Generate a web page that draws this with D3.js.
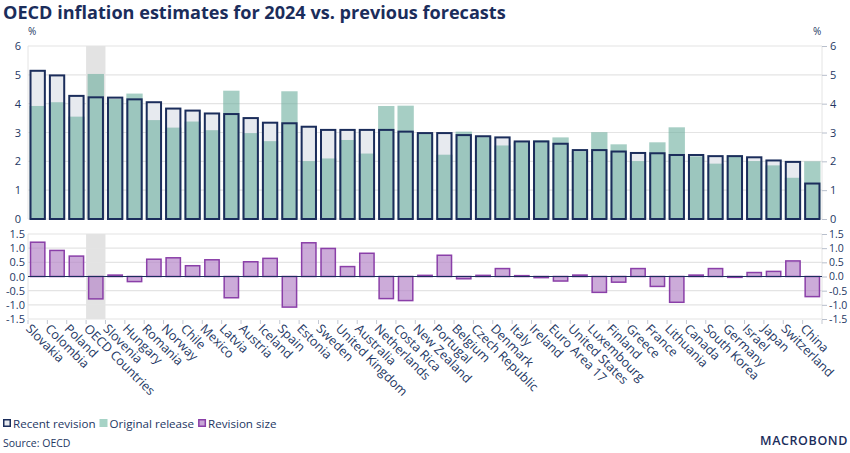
<!DOCTYPE html>
<html>
<head>
<meta charset="utf-8">
<script src="https://cdn.jsdelivr.net/npm/d3@7"></script>
<style>
  body { margin: 0; background: #fff; }
  text { font-family: "Open Sans", sans-serif; }
</style>
</head>
<body>
<script>
const countries = ["Slovakia", "Colombia", "Poland", "OECD Countries", "Slovenia", "Hungary", "Romania", "Norway",
  "Chile", "Mexico", "Latvia", "Austria", "Iceland", "Spain", "Estonia", "Sweden", "United Kingdom", "Australia",
  "Netherlands", "Costa Rica", "New Zealand", "Portugal", "Belgium", "Czech Republic", "Denmark", "Italy", "Ireland",
  "Euro Area 17", "United States", "Luxembourg", "Finland", "Greece", "France", "Lithuania", "Canada", "South Korea",
  "Germany", "Israel", "Japan", "Switzerland", "China"];

const recentRevision = [5.14, 4.98, 4.27, 4.22, 4.21, 4.15, 4.05, 3.83, 3.76, 3.66, 3.64, 3.50, 3.34, 3.32, 3.20,
  3.09, 3.09, 3.09, 3.09, 3.03, 2.98, 2.98, 2.91, 2.87, 2.83, 2.69, 2.69, 2.61, 2.39, 2.39, 2.34, 2.29, 2.28,
  2.22, 2.22, 2.18, 2.18, 2.14, 2.03, 1.98, 1.23];

const originalRelease = [3.92, 4.05, 3.55, 5.03, 4.16, 4.35, 3.43, 3.17, 3.38, 3.08, 4.45, 2.98, 2.70, 4.43, 2.01,
  2.10, 2.74, 2.27, 3.92, 3.93, 2.95, 2.23, 3.03, 2.84, 2.55, 2.67, 2.73, 2.83, 2.35, 3.01, 2.59, 2.01, 2.66,
  3.18, 2.17, 1.92, 2.21, 2.01, 1.86, 1.43, 2.00];

const revisionSize = [1.21, 0.92, 0.72, -0.79, 0.05, -0.18, 0.61, 0.66, 0.38, 0.59, -0.75, 0.52, 0.64, -1.08, 1.19,
  0.99, 0.35, 0.82, -0.78, -0.85, 0.04, 0.75, -0.08, 0.04, 0.28, 0.03, -0.04, -0.16, 0.05, -0.56, -0.20, 0.28,
  -0.35, -0.91, 0.05, 0.28, -0.03, 0.14, 0.18, 0.55, -0.71];

const topTicks = [0, 1, 2, 3, 4, 5, 6];
const bottomTicks = [-1.5, -1.0, -0.5, 0.0, 0.5, 1.0, 1.5];
const highlighted = "OECD Countries";

const width = 850;
const height = 453;
const plot = {left: 28, right: 822, topY0: 219, topY1: 46, botY0: 319, botY1: 234};

const navy = "#1b2d5b";
const textColor = "#243763";
const gridColor = "#e4e4e4";

const data = countries.map((c, i) => ({
  country: c,
  recent: recentRevision[i],
  original: originalRelease[i],
  revision: revisionSize[i]
}));

const svg = d3.select("body").append("svg")
  .attr("width", width)
  .attr("height", height);

const xScale = d3.scaleBand()
  .domain(countries)
  .range([plot.left, plot.right])
  .paddingInner(0.26)
  .paddingOuter(0.13);

const yTop = d3.scaleLinear().domain([0, 6]).range([plot.topY0, plot.topY1]);
const yBot = d3.scaleLinear().domain([-1.5, 1.5]).range([plot.botY0, plot.botY1]);

// hyphen instead of unicode minus, like the original
const fmtBot = d => d3.format(".1f")(d).replace("\u2212", "-");

// title
svg.append("text")
  .attr("x", 3).attr("y", 19)
  .attr("font-size", 18.1)
  .attr("font-weight", 700)
  .attr("fill", navy)
  .text("OECD inflation estimates for 2024 vs. previous forecasts");

// highlight band behind OECD
const bandX = xScale(highlighted) - xScale.step() * xScale.paddingInner() / 2;
[[plot.topY1, plot.topY0], [plot.botY1, plot.botY0]].forEach(([y1, y0]) => {
  svg.append("rect")
    .attr("x", bandX)
    .attr("y", y1)
    .attr("width", xScale.step())
    .attr("height", y0 - y1)
    .attr("fill", "#e3e3e3");
});

// grid lines
svg.append("g")
  .selectAll("line")
  .data(topTicks)
  .join("line")
  .attr("x1", plot.left).attr("x2", plot.right)
  .attr("y1", d => yTop(d)).attr("y2", d => yTop(d))
  .attr("stroke", gridColor).attr("stroke-width", 1.2);

svg.append("g")
  .selectAll("line")
  .data(bottomTicks)
  .join("line")
  .attr("x1", plot.left).attr("x2", plot.right)
  .attr("y1", d => yBot(d)).attr("y2", d => yBot(d))
  .attr("stroke", gridColor).attr("stroke-width", 1.2);

// side frame lines
[plot.left, plot.right].forEach(x => {
  svg.append("line").attr("x1", x).attr("x2", x).attr("y1", plot.topY1).attr("y2", plot.topY0)
    .attr("stroke", gridColor);
  svg.append("line").attr("x1", x).attr("x2", x).attr("y1", plot.botY1).attr("y2", plot.botY0)
    .attr("stroke", gridColor);
});

// axes
const leftTop = svg.append("g")
  .attr("transform", `translate(${plot.left - 6}, 0)`)
  .call(d3.axisLeft(yTop).tickValues(topTicks).tickSize(0).tickFormat(d3.format("d")));
const rightTop = svg.append("g")
  .attr("transform", `translate(${plot.right}, 0)`)
  .call(d3.axisRight(yTop).tickValues(topTicks).tickSize(5).tickPadding(3).tickFormat(d3.format("d")));
const leftBot = svg.append("g")
  .attr("transform", `translate(${plot.left - 2}, 0)`)
  .call(d3.axisLeft(yBot).tickValues(bottomTicks).tickSize(0).tickPadding(1).tickFormat(fmtBot));
const rightBot = svg.append("g")
  .attr("transform", `translate(${plot.right}, 0)`)
  .call(d3.axisRight(yBot).tickValues(bottomTicks).tickSize(5).tickPadding(2).tickFormat(fmtBot));

[leftTop, rightTop, leftBot, rightBot].forEach(g => {
  g.select(".domain").remove();
  g.selectAll(".tick line").attr("stroke", "#b8bfcc");
  g.selectAll(".tick text")
    .attr("fill", textColor)
    .attr("font-size", 11)
    .attr("font-family", "Open Sans, sans-serif");
});
leftTop.selectAll(".tick text").attr("text-anchor", "middle").attr("x", -4);
rightBot.selectAll(".tick text").attr("font-size", 10.5);

svg.append("text").attr("x", 28).attr("y", 35).attr("font-size", 10).attr("fill", textColor).text("%");
svg.append("text").attr("x", 813).attr("y", 35).attr("font-size", 10).attr("fill", textColor).text("%");

// top chart: recent revision fill, original release, recent revision outline
const bw = xScale.bandwidth();

svg.append("g").selectAll("rect")
  .data(data)
  .join("rect")
  .attr("x", d => xScale(d.country))
  .attr("y", d => yTop(d.recent))
  .attr("width", bw)
  .attr("height", d => yTop(0) - yTop(d.recent))
  .attr("fill", "#e7eaef");

svg.append("g").selectAll("rect")
  .data(data)
  .join("rect")
  .attr("x", d => xScale(d.country) - 1)
  .attr("y", d => yTop(d.original))
  .attr("width", bw + 2)
  .attr("height", d => yTop(0) - yTop(d.original))
  .attr("fill", "#6aae9c")
  .attr("fill-opacity", 0.6);

svg.append("g").selectAll("rect")
  .data(data)
  .join("rect")
  .attr("x", d => xScale(d.country))
  .attr("y", d => yTop(d.recent))
  .attr("width", bw)
  .attr("height", d => yTop(0) - yTop(d.recent))
  .attr("fill", "none")
  .attr("stroke", navy)
  .attr("stroke-width", 2);

// bottom chart: revision size
svg.append("g").selectAll("rect")
  .data(data)
  .join("rect")
  .attr("x", d => xScale(d.country))
  .attr("y", d => yBot(Math.max(0, d.revision)))
  .attr("width", bw)
  .attr("height", d => Math.abs(yBot(d.revision) - yBot(0)))
  .attr("fill", "#b688c9")
  .attr("fill-opacity", 0.7)
  .attr("stroke", "#8a3fa8")
  .attr("stroke-width", 1.5);

svg.append("line")
  .attr("x1", plot.left).attr("x2", plot.right)
  .attr("y1", yBot(0)).attr("y2", yBot(0))
  .attr("stroke", navy).attr("stroke-width", 1.2);

// category axis
const xAxis = svg.append("g")
  .attr("transform", `translate(0, ${plot.botY0 + 1})`)
  .call(d3.axisBottom(xScale).tickSize(0).tickPadding(11));
xAxis.select(".domain").remove();
xAxis.selectAll(".tick text")
  .attr("fill", textColor)
  .attr("font-size", 12.6)
  .attr("font-family", "Open Sans, sans-serif")
  .attr("text-anchor", "start")
  .attr("transform", "translate(-3, 0) rotate(45)")
  .attr("dy", "0.2em");

// boundary ticks between categories
svg.append("g").selectAll("line")
  .data(countries.concat(["end"]))
  .join("line")
  .attr("x1", (d, i) => bandX - xScale(highlighted) + xScale(countries[0]) + i * xScale.step())
  .attr("x2", (d, i) => bandX - xScale(highlighted) + xScale(countries[0]) + i * xScale.step())
  .attr("y1", plot.botY0 + 1).attr("y2", plot.botY0 + 5)
  .attr("stroke", "#c3c8d2");

// legend
const legendItems = [
  {label: "Recent revision", fill: "#e7eaef", stroke: navy},
  {label: "Original release", fill: "#a6d3c6", stroke: "#a6d3c6"},
  {label: "Revision size", fill: "#c7a6d6", stroke: "#8a3fa8"}
];
let lx = 3;
legendItems.forEach(item => {
  svg.append("rect")
    .attr("x", lx + 0.75).attr("y", 419.75)
    .attr("width", 6.5).attr("height", 6.5)
    .attr("fill", item.fill).attr("stroke", item.stroke).attr("stroke-width", 1.5);
  const t = svg.append("text")
    .attr("x", lx + 10).attr("y", 427.5)
    .attr("font-size", 11.6)
    .attr("fill", textColor)
    .text(item.label);
  lx += 10 + t.node().getComputedTextLength() + 4;
});

svg.append("text")
  .attr("x", 3).attr("y", 447)
  .attr("font-size", 10.5)
  .attr("fill", textColor)
  .text("Source: OECD");

svg.append("text")
  .attr("x", 848).attr("y", 445)
  .attr("text-anchor", "end")
  .attr("font-size", 12.5)
  .attr("font-weight", 600)
  .attr("letter-spacing", 0.6)
  .attr("fill", navy)
  .text("MACROBOND");
</script>
</body>
</html>
